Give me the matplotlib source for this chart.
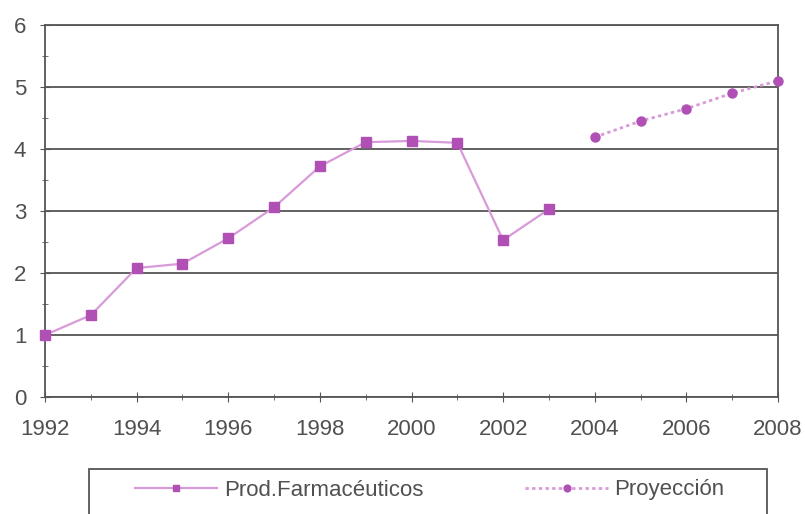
import matplotlib
matplotlib.use("Agg")
import matplotlib.pyplot as plt
from matplotlib.patches import Rectangle
from matplotlib.ticker import MultipleLocator

plt.rcParams['font.family'] = ['Liberation Sans', 'DejaVu Sans']

# real series and projection
years_real = [1992, 1993, 1994, 1995, 1996, 1997, 1998, 1999, 2000, 2001, 2002, 2003]
prod_farm = [1.0, 1.32, 2.08, 2.15, 2.56, 3.06, 3.72, 4.11, 4.13, 4.10, 2.53, 3.03]
years_proj = [2004, 2005, 2006, 2007, 2008]
proyeccion = [4.19, 4.45, 4.65, 4.90, 5.10]
xticks = list(range(1992, 2009, 2))

W, H = 805, 514
fig = plt.figure(figsize=(W / 100, H / 100), dpi=100)
ax = fig.add_axes([45 / W, 1 - 397 / H, 733 / W, 372 / H])

line_col = '#d89ad8'
mark_col = '#b050b4'
ax.plot(years_real, prod_farm, color=line_col, lw=1.6, marker='s', ms=6.5,
        mfc=mark_col, mec=mark_col, label='Prod.Farmacéuticos', zorder=3, clip_on=False)
ax.plot(years_proj, proyeccion, color=line_col, lw=2, ls=(0, (1.2, 1.2)),
        marker='o', ms=6.5, mfc=mark_col, mec=mark_col, label='Proyección', zorder=3, clip_on=False)

ax.set_xlim(1992, 2008)
ax.set_ylim(0, 6)
ax.set_xticks(xticks)
ax.xaxis.set_minor_locator(MultipleLocator(1))
ax.yaxis.set_major_locator(MultipleLocator(1))
ax.yaxis.set_minor_locator(MultipleLocator(0.5))
ax.grid(axis='y', which='major', color='#555555', lw=1.3)
ax.set_axisbelow(True)

for s in ax.spines.values():
    s.set_color('#555555')
    s.set_linewidth(1.3)

ax.tick_params(axis='both', which='major', direction='inout', length=7,
               color='#555555', labelsize=16, labelcolor='#505050')
ax.tick_params(axis='x', which='major', pad=12)
ax.tick_params(axis='y', which='major', pad=10)
ax.tick_params(axis='both', which='minor', direction='inout', length=5, color='#555555')

# legend box runs off the bottom edge
fig.patches.append(Rectangle((89 / W, -0.05), 678 / W, 0.05 + 1 - 469 / H,
                             transform=fig.transFigure, fill=False,
                             edgecolor='#555555', lw=1.3))
leg = fig.legend(loc='center left', bbox_to_anchor=(135 / W, 1 - 490 / H),
                 ncol=2, frameon=False, fontsize=16, handlelength=3.7,
                 handletextpad=0.3, columnspacing=4.6, borderpad=0,
                 borderaxespad=0, markerscale=0.75, labelcolor='#505050')

fig.savefig('out.png', dpi=100)
